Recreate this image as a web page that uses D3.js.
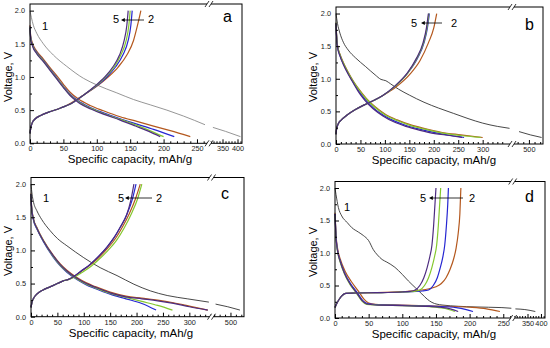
<!DOCTYPE html>
<html>
<head>
<meta charset="utf-8">
<script src="https://d3js.org/d3.v7.min.js"></script>
<style>
  body { margin: 0; background: #fff; }
  svg { display: block; font-family: "Liberation Sans", Arial, sans-serif; }
  .tick text { font-size: 7.3px; fill: #222; }
</style>
</head>
<body>
<div id="chart"></div>
<script>
// tick labels
var ticksA = [0, 50, 100, 150, 200, 250, 350, 400];
var ticksB = [0, 50, 100, 150, 200, 250, 300, 500];
var ticksC = [0, 50, 100, 150, 200, 250, 300, 500];
var ticksD = [0, 50, 100, 150, 200, 250, 350, 400];
var voltTicks = [0, 0.5, 1.0, 1.5, 2.0];

// cycle order in the lists below: 2, 3, 4, 5
var cycleColors = ["#b4581e", "#2626d2", "#84c82e", "#4d2c80"];

// panel a  [capacity mAh/g, voltage V]
var firstA = [[0,2.0],[2,1.9],[5,1.78],[10,1.66],[20,1.5],[35,1.33],[55,1.16],[80,0.98],[100,0.88],[130,0.76],[155,0.66],[180,0.58],[205,0.5],[230,0.41],[262,0.28],[318,0.24],[360,0.18],[410,0.1]];
var dischargeA = [
  [[0,1.78],[1,1.62],[4,1.5],[10,1.39],[20,1.27],[30,1.14],[40,1.02],[50,0.89],[60,0.77],[72,0.67],[90,0.57],[110,0.49],[135,0.4],[160,0.33],[185,0.26],[210,0.19],[240,0.1]],
  [[0,1.76],[1,1.6],[4,1.48],[10,1.37],[20,1.25],[30,1.12],[40,0.99],[50,0.86],[60,0.74],[72,0.64],[90,0.54],[110,0.46],[135,0.37],[160,0.29],[185,0.21],[216,0.1]],
  [[0,1.75],[1,1.59],[4,1.47],[10,1.36],[20,1.24],[30,1.11],[40,0.98],[50,0.85],[60,0.73],[72,0.63],[90,0.53],[110,0.45],[135,0.36],[160,0.27],[182,0.18],[200,0.1]],
  [[0,1.74],[1,1.58],[4,1.46],[10,1.35],[20,1.23],[30,1.1],[40,0.97],[50,0.84],[60,0.72],[72,0.62],[90,0.52],[110,0.44],[135,0.35],[158,0.26],[178,0.18],[195,0.1]]
];
var chargeA = [
  [[0,0.15],[1,0.22],[3,0.3],[8,0.37],[16,0.42],[28,0.47],[40,0.51],[50,0.55],[58,0.59],[68,0.65],[82,0.74],[100,0.86],[117,1.0],[132,1.15],[145,1.33],[155,1.55],[161,1.78],[166,2.0]],
  [[0,0.15],[1,0.22],[3,0.3],[8,0.37],[16,0.42],[28,0.47],[40,0.51],[50,0.55],[58,0.58],[68,0.64],[82,0.74],[99,0.86],[115,1.0],[128,1.15],[139,1.33],[147,1.55],[151,1.78],[153,2.0]],
  [[0,0.15],[1,0.22],[3,0.3],[8,0.37],[16,0.42],[28,0.47],[40,0.51],[50,0.55],[58,0.58],[68,0.64],[82,0.74],[98,0.86],[113,1.0],[126,1.15],[136,1.33],[144,1.55],[148,1.78],[150,2.0]],
  [[0,0.15],[1,0.22],[3,0.3],[8,0.37],[16,0.42],[28,0.47],[40,0.51],[50,0.55],[58,0.58],[68,0.64],[82,0.74],[97,0.86],[112,1.0],[124,1.15],[134,1.33],[141,1.55],[145,1.78],[147,2.0]]
];

// panel b
var firstB = [[0,2.0],[3,1.85],[8,1.7],[15,1.56],[25,1.44],[40,1.32],[60,1.19],[80,1.06],[92,0.99],[102,0.97],[112,0.92],[128,0.84],[150,0.75],[180,0.64],[210,0.55],[240,0.47],[270,0.39],[300,0.32],[330,0.27],[355,0.24],[465,0.19],[505,0.14],[545,0.1]];
var dischargeB = [
  [[0,1.86],[1,1.7],[3,1.52],[8,1.38],[15,1.25],[25,1.1],[35,0.97],[48,0.83],[62,0.7],[80,0.57],[100,0.46],[125,0.37],[150,0.3],[180,0.24],[215,0.18],[255,0.14],[300,0.1]],
  [[0,1.85],[1,1.68],[3,1.5],[8,1.36],[15,1.23],[25,1.08],[35,0.95],[47,0.81],[60,0.68],[77,0.55],[97,0.44],[120,0.35],[145,0.28],[175,0.22],[205,0.17],[235,0.13],[262,0.1]],
  [[0,1.86],[1,1.69],[3,1.51],[8,1.37],[15,1.24],[25,1.09],[35,0.96],[48,0.82],[62,0.69],[80,0.56],[100,0.45],[125,0.36],[150,0.29],[180,0.23],[215,0.17],[255,0.13],[296,0.1]],
  [[0,1.85],[1,1.67],[3,1.49],[8,1.35],[15,1.22],[25,1.07],[35,0.94],[46,0.8],[59,0.67],[76,0.54],[96,0.43],[118,0.34],[143,0.27],[172,0.21],[202,0.16],[232,0.13],[258,0.1]]
];
var chargeB = [
  [[0,0.15],[1,0.22],[4,0.3],[11,0.37],[22,0.44],[38,0.52],[58,0.6],[78,0.67],[95,0.74],[122,0.87],[150,1.06],[172,1.28],[189,1.55],[200,1.78],[206,2.0]],
  [[0,0.15],[1,0.22],[4,0.3],[11,0.37],[22,0.44],[38,0.52],[58,0.6],[78,0.67],[95,0.74],[120,0.88],[147,1.09],[167,1.32],[180,1.55],[187,1.78],[191,2.0]],
  [[0,0.15],[1,0.22],[4,0.3],[11,0.37],[22,0.44],[38,0.52],[58,0.6],[78,0.67],[95,0.74],[120,0.88],[147,1.09],[166,1.32],[179,1.55],[186,1.78],[190,2.0]],
  [[0,0.15],[1,0.22],[4,0.3],[11,0.37],[22,0.44],[38,0.52],[58,0.6],[78,0.67],[95,0.74],[119,0.88],[146,1.09],[165,1.32],[178,1.55],[185,1.78],[189,2.0]]
];

// panel c
var firstC = [[0,2.0],[2,1.85],[5,1.72],[11,1.6],[20,1.47],[36,1.3],[50,1.18],[68,1.07],[100,0.89],[131,0.74],[163,0.62],[195,0.49],[226,0.39],[258,0.32],[296,0.27],[337,0.22],[445,0.19],[490,0.15],[535,0.1]];
var dischargeC = [
  [[0,1.86],[1,1.68],[4,1.5],[12,1.33],[23,1.16],[42,0.93],[55,0.8],[68,0.7],[87,0.59],[105,0.51],[120,0.46],[150,0.37],[180,0.31],[210,0.28],[240,0.25],[270,0.21],[300,0.16],[335,0.1]],
  [[0,1.85],[1,1.66],[4,1.48],[12,1.31],[23,1.14],[42,0.9],[55,0.77],[68,0.67],[87,0.56],[105,0.48],[120,0.43],[150,0.34],[180,0.27],[210,0.2],[237,0.1]],
  [[0,1.85],[1,1.67],[4,1.49],[12,1.32],[23,1.15],[42,0.91],[55,0.78],[68,0.68],[87,0.57],[105,0.49],[120,0.44],[150,0.35],[180,0.29],[210,0.23],[240,0.17],[268,0.1]],
  [[0,1.85],[1,1.67],[4,1.49],[12,1.32],[23,1.15],[42,0.92],[55,0.79],[68,0.69],[87,0.58],[105,0.5],[120,0.45],[150,0.36],[180,0.3],[210,0.27],[240,0.24],[270,0.2],[300,0.15],[335,0.1]]
];
var chargeC = [
  [[0,0.14],[2,0.22],[5,0.28],[11,0.34],[22,0.4],[36,0.45],[50,0.5],[61,0.54],[70,0.56],[80,0.6],[95,0.68],[112,0.78],[128,0.89],[145,1.03],[160,1.18],[173,1.35],[186,1.55],[198,1.78],[207,2.0]],
  [[0,0.14],[2,0.22],[5,0.28],[11,0.34],[22,0.4],[36,0.45],[50,0.5],[61,0.54],[70,0.56],[80,0.6],[95,0.69],[112,0.79],[128,0.91],[144,1.05],[158,1.2],[170,1.36],[182,1.55],[192,1.77],[199,2.0]],
  [[0,0.14],[2,0.22],[5,0.28],[11,0.34],[22,0.4],[36,0.45],[50,0.5],[61,0.54],[70,0.56],[80,0.59],[95,0.66],[112,0.75],[128,0.86],[146,1.0],[162,1.15],[176,1.33],[190,1.55],[202,1.78],[210,2.0]],
  [[0,0.14],[2,0.22],[5,0.28],[11,0.34],[22,0.4],[36,0.45],[50,0.5],[61,0.54],[70,0.56],[80,0.6],[95,0.69],[112,0.79],[128,0.91],[144,1.05],[158,1.2],[169,1.35],[181,1.53],[189,1.75],[195,2.0]]
];

// panel d
var firstD = [[0,2.0],[1.5,1.9],[5,1.7],[10,1.57],[18,1.47],[25,1.39],[35,1.32],[42,1.27],[50,1.19],[57,1.05],[63,0.97],[70,0.9],[77,0.86],[89,0.78],[100,0.67],[109,0.57],[120,0.46],[129,0.37],[137,0.29],[144,0.24],[159,0.2],[208,0.17],[248,0.16],[262,0.15],[305,0.14],[340,0.13],[379,0.1]];
var dischargeD = [
  [[0,1.62],[1,1.4],[2,1.22],[4,1.06],[8,0.9],[15,0.72],[25,0.55],[35,0.41],[43,0.29],[50,0.23],[60,0.21],[100,0.2],[150,0.185],[200,0.165],[225,0.14],[245,0.1]],
  [[0,1.6],[1,1.37],[2,1.19],[4,1.03],[8,0.87],[14,0.7],[23,0.53],[33,0.39],[41,0.27],[48,0.22],[60,0.205],[100,0.195],[150,0.18],[180,0.16],[195,0.13],[205,0.1]],
  [[0,1.58],[1,1.35],[2,1.17],[4,1.01],[8,0.85],[14,0.68],[22,0.52],[32,0.38],[40,0.26],[47,0.21],[60,0.2],[100,0.19],[140,0.175],[162,0.15],[178,0.1]],
  [[0,1.6],[1,1.36],[2,1.18],[4,1.02],[8,0.86],[14,0.69],[22,0.53],[32,0.39],[40,0.27],[47,0.215],[60,0.2],[100,0.19],[140,0.178],[165,0.155],[183,0.1]]
];
var chargeD = [
  [[0,0.16],[3,0.23],[7,0.3],[11,0.35],[16,0.38],[30,0.385],[60,0.39],[100,0.405],[125,0.425],[140,0.45],[150,0.48],[158,0.53],[165,0.62],[171,0.75],[176,0.9],[180,1.08],[183,1.3],[185.5,1.6],[187,2.0]],
  [[0,0.16],[3,0.23],[7,0.3],[11,0.35],[16,0.38],[30,0.385],[60,0.39],[100,0.4],[130,0.415],[139,0.43],[146,0.5],[152,0.62],[156,0.76],[160,0.93],[163,1.12],[165.5,1.42],[167.5,1.75],[168.5,2.0]],
  [[0,0.16],[3,0.23],[7,0.3],[11,0.35],[16,0.38],[30,0.385],[60,0.39],[100,0.4],[118,0.41],[126,0.43],[133,0.5],[139,0.62],[144,0.78],[148,0.95],[151,1.12],[153.5,1.42],[155.5,1.75],[157,2.0]],
  [[0,0.16],[3,0.23],[7,0.3],[11,0.35],[16,0.38],[30,0.385],[60,0.39],[100,0.4],[112,0.41],[119,0.43],[126,0.5],[132,0.62],[137,0.78],[141,0.95],[144,1.12],[146.5,1.42],[148.5,1.75],[150,2.0]]
];

var width = 550, height = 348;

var panels = [
  {letter:"a", left:30, right:242, top:4, bottom:143.3, brk:209, lo:268, hi:305, max:415, minorStep:10,
   ticks:ticksA, first:firstA, firstColor:"#8a8a8a", discharge:dischargeA, charge:chargeA,
   xLab:[130,163], yLab:[12,77], letterPos:[223,22], one:[42,30], five:[113,23], arrow:[122,144,20], two:[148,23]},
  {letter:"b", left:336, right:543, top:7, bottom:144, brk:512, lo:360, hi:440, max:550, minorStep:20,
   ticks:ticksB, first:firstB, firstColor:"#333", discharge:dischargeB, charge:chargeB,
   xLab:[434,164], yLab:[317,77], letterPos:[525,30], one:null, five:[411,27], arrow:[422,442,23], two:[451,27]},
  {letter:"c", left:31, right:244, top:177.5, bottom:316.7, brk:211.5, lo:342, hi:430, max:550, minorStep:20,
   ticks:ticksC, first:firstC, firstColor:"#333", discharge:dischargeC, charge:chargeC,
   xLab:[131,337], yLab:[12,251], letterPos:[221,199], one:[43,201.5], five:[118,201.5], arrow:[126,152,198], two:[156,201.5]},
  {letter:"d", left:335, right:545, top:181.5, bottom:318, brk:512.7, lo:264, hi:295, max:415, minorStep:10,
   ticks:ticksD, first:firstD, firstColor:"#333", discharge:dischargeD, charge:chargeD,
   xLab:[434,338], yLab:[317,252], letterPos:[525,202], one:[344,211], five:[420,201.5], arrow:[430,463,198], two:[469,201.5]}
];

var svg = d3.select("#chart").append("svg")
  .attr("width", width)
  .attr("height", height);

svg.append("defs").append("marker")
  .attr("id", "head")
  .attr("viewBox", "0 0 10 10")
  .attr("refX", 2).attr("refY", 5)
  .attr("markerWidth", 5).attr("markerHeight", 5)
  .attr("orient", "auto-start-reverse")
  .append("path")
  .attr("d", "M0,0L10,5L0,10z")
  .attr("fill", "#000");

panels.forEach(function(p) {
  var g = svg.append("g");

  var xScale = d3.scaleLinear()
    .domain([0, p.lo, p.hi, p.max])
    .range([p.left, p.brk, p.brk, p.right]);
  var yScale = d3.scaleLinear()
    .domain([0, 2.1])
    .range([p.bottom, p.top]);

  var line = d3.line()
    .x(function(d) { return xScale(d[0]); })
    .y(function(d) { return yScale(d[1]); })
    .curve(d3.curveMonotoneX);

  // split a curve at the axis break
  function drawCurve(pts, color, w) {
    var left = pts.filter(function(d) { return d[0] <= p.lo; });
    var right = pts.filter(function(d) { return d[0] >= p.hi; });
    [left, right].forEach(function(seg) {
      if (seg.length < 2) return;
      g.append("path")
        .attr("d", line(seg))
        .attr("fill", "none")
        .attr("stroke", color)
        .attr("stroke-width", w);
    });
  }

  drawCurve(p.first, p.firstColor, 0.9);
  for (var i = 0; i < 4; i++) {
    drawCurve(p.discharge[i], cycleColors[i], 1.2);
    drawCurve(p.charge[i], cycleColors[i], 1.2);
  }

  // frame
  g.append("rect")
    .attr("x", p.left).attr("y", p.top)
    .attr("width", p.right - p.left)
    .attr("height", p.bottom - p.top)
    .attr("fill", "none")
    .attr("stroke", "#000")
    .attr("stroke-width", 1);

  // minor ticks
  var minorX = d3.range(10, p.lo, 10).filter(function(v) { return v % 50 !== 0; })
    .concat(d3.range(Math.ceil(p.hi / p.minorStep) * p.minorStep, p.max, p.minorStep)
      .filter(function(v) { return p.ticks.indexOf(v) < 0 && v > p.hi; }));
  g.append("g")
    .attr("transform", "translate(0," + p.bottom + ")")
    .call(d3.axisBottom(xScale).tickValues(minorX).tickSize(-2).tickSizeOuter(0).tickFormat(""))
    .call(function(a) { a.select(".domain").remove(); });

  g.append("g")
    .attr("transform", "translate(0," + p.bottom + ")")
    .call(d3.axisBottom(xScale).tickValues(p.ticks).tickSize(-4).tickSizeOuter(0).tickPadding(3).tickFormat(d3.format("d")))
    .call(function(a) { a.select(".domain").remove(); });

  g.append("g")
    .attr("transform", "translate(" + p.left + ",0)")
    .call(d3.axisLeft(yScale).tickValues([0.25, 0.75, 1.25, 1.75]).tickSize(-2).tickSizeOuter(0).tickFormat(""))
    .call(function(a) { a.select(".domain").remove(); });

  g.append("g")
    .attr("transform", "translate(" + p.left + ",0)")
    .call(d3.axisLeft(yScale).tickValues(voltTicks).tickSize(-4).tickSizeOuter(0).tickPadding(5).tickFormat(d3.format(".1f")))
    .call(function(a) { a.select(".domain").remove(); });

  // break marks
  [p.bottom, p.top].forEach(function(yy) {
    g.append("rect")
      .attr("x", p.brk - 2).attr("y", yy - 1.5)
      .attr("width", 4).attr("height", 3)
      .attr("fill", "#fff");
    [-2, 2].forEach(function(dx) {
      g.append("line")
        .attr("x1", p.brk + dx - 2).attr("y1", yy + 3)
        .attr("x2", p.brk + dx + 2).attr("y2", yy - 3)
        .attr("stroke", "#000")
        .attr("stroke-width", 0.8);
    });
  });

  // axis titles
  g.append("text")
    .attr("x", p.xLab[0]).attr("y", p.xLab[1])
    .attr("text-anchor", "middle")
    .attr("font-size", 11.5)
    .text("Specific capacity, mAh/g");

  g.append("text")
    .attr("transform", "translate(" + p.yLab[0] + "," + p.yLab[1] + ") rotate(-90)")
    .attr("text-anchor", "middle")
    .attr("font-size", 11)
    .text("Voltage, V");

  // annotations
  g.append("text")
    .attr("x", p.letterPos[0]).attr("y", p.letterPos[1])
    .attr("font-size", 16)
    .text(p.letter);

  if (p.one) {
    g.append("text")
      .attr("x", p.one[0]).attr("y", p.one[1])
      .attr("font-size", 11)
      .text("1");
  }
  g.append("text")
    .attr("x", p.five[0]).attr("y", p.five[1])
    .attr("font-size", 11)
    .text("5");
  g.append("text")
    .attr("x", p.two[0]).attr("y", p.two[1])
    .attr("font-size", 11)
    .text("2");
  g.append("line")
    .attr("x1", p.arrow[1]).attr("y1", p.arrow[2])
    .attr("x2", p.arrow[0] + 2).attr("y2", p.arrow[2])
    .attr("stroke", "#000")
    .attr("stroke-width", 0.8)
    .attr("marker-end", "url(#head)");
});
</script>
</body>
</html>
